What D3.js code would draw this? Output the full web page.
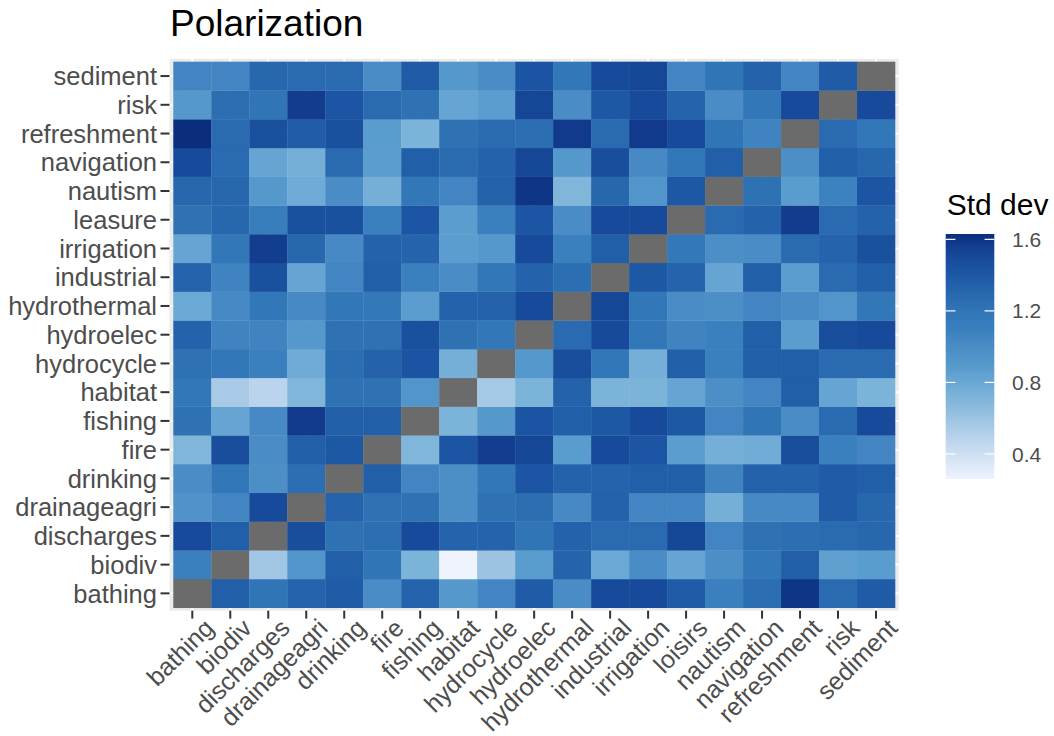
<!DOCTYPE html>
<html>
<head>
<meta charset="utf-8">
<script src="https://cdn.jsdelivr.net/npm/d3@7"></script>
<style>
  html, body { margin: 0; padding: 0; background: #ffffff; }
  svg { display: block; font-family: "Liberation Sans", Arial, Helvetica, sans-serif; }
</style>
</head>
<body>
<svg id="chart" width="1054" height="736"></svg>
<script>
// Column categories (x axis) and row categories (y axis, bottom to top)
const xCategories = ["bathing", "biodiv", "discharges", "drainageagri", "drinking", "fire",
  "fishing", "habitat", "hydrocycle", "hydroelec", "hydrothermal", "industrial", "irrigation",
  "loisirs", "nautism", "navigation", "refreshment", "risk", "sediment"];
const yCategories = ["bathing", "biodiv", "discharges", "drainageagri", "drinking", "fire",
  "fishing", "habitat", "hydrocycle", "hydroelec", "hydrothermal", "industrial", "irrigation",
  "leasure", "nautism", "navigation", "refreshment", "risk", "sediment"];

// Standard deviation of polarization, one row per y category (null = same category)
const stdDev = [
  /* bathing      */ [null, 1.35, 1.20, 1.32, 1.38, 1.00, 1.32, 0.90, 1.05, 1.38, 1.00, 1.50, 1.50, 1.38, 1.10, 1.25, 1.60, 1.28, 1.38],
  /* biodiv       */ [1.10, null, 0.58, 0.93, 1.35, 1.20, 0.72, 0.26, 0.60, 0.88, 1.32, 0.80, 1.00, 0.82, 0.98, 1.18, 1.35, 0.85, 0.88],
  /* discharges   */ [1.50, 1.35, null, 1.47, 1.22, 1.25, 1.50, 1.32, 1.32, 1.20, 1.33, 1.28, 1.28, 1.52, 1.05, 1.22, 1.25, 1.28, 1.30],
  /* drainageagri */ [0.95, 1.05, 1.50, null, 1.32, 1.22, 1.22, 0.98, 1.22, 1.25, 1.02, 1.33, 1.05, 1.05, 0.75, 1.02, 1.02, 1.38, 1.30],
  /* drinking     */ [1.00, 1.18, 0.98, 1.25, null, 1.35, 1.05, 0.98, 1.18, 1.42, 1.33, 1.32, 1.35, 1.35, 1.07, 1.33, 1.33, 1.38, 1.35],
  /* fire         */ [0.70, 1.47, 1.00, 1.35, 1.40, null, 0.70, 1.42, 1.56, 1.52, 0.88, 1.50, 1.42, 0.87, 0.75, 0.77, 1.47, 1.10, 1.05],
  /* fishing      */ [1.22, 0.82, 1.02, 1.58, 1.35, 1.35, null, 0.72, 0.90, 1.43, 1.35, 1.40, 1.50, 1.40, 1.05, 1.20, 1.00, 1.28, 1.50],
  /* habitat      */ [1.18, 0.55, 0.48, 0.70, 1.22, 1.22, 0.93, null, 0.56, 0.72, 1.33, 0.72, 0.72, 0.82, 0.98, 1.05, 1.35, 0.82, 0.72],
  /* hydrocycle   */ [1.22, 1.18, 1.10, 0.78, 1.25, 1.33, 1.43, 0.75, null, 0.90, 1.47, 1.18, 0.75, 1.35, 1.10, 1.35, 1.35, 1.28, 1.28],
  /* hydroelec    */ [1.33, 1.07, 1.07, 0.90, 1.22, 1.22, 1.45, 1.22, 1.18, null, 1.28, 1.50, 1.18, 1.07, 1.10, 1.35, 0.87, 1.47, 1.50],
  /* hydrothermal */ [0.80, 1.02, 1.18, 1.02, 1.18, 1.17, 0.87, 1.33, 1.33, 1.50, null, 1.52, 1.18, 1.00, 0.98, 1.05, 1.00, 0.93, 1.18],
  /* industrial   */ [1.32, 1.07, 1.45, 0.82, 1.05, 1.35, 1.10, 1.00, 1.18, 1.33, 1.25, null, 1.40, 1.32, 0.82, 1.35, 0.87, 1.28, 1.35],
  /* irrigation   */ [0.82, 1.18, 1.56, 1.30, 1.02, 1.33, 1.32, 0.87, 0.90, 1.50, 1.10, 1.35, null, 1.17, 0.98, 1.00, 1.28, 1.32, 1.45],
  /* leasure      */ [1.22, 1.30, 1.12, 1.45, 1.45, 1.10, 1.42, 0.87, 1.10, 1.42, 1.00, 1.50, 1.50, null, 1.28, 1.33, 1.57, 1.28, 1.33],
  /* nautism      */ [1.30, 1.30, 0.90, 0.78, 1.00, 0.75, 1.18, 1.05, 1.33, 1.60, 0.70, 1.30, 0.93, 1.40, null, 1.22, 0.88, 1.08, 1.42],
  /* navigation   */ [1.50, 1.28, 0.82, 0.75, 1.28, 0.87, 1.35, 1.27, 1.33, 1.52, 0.90, 1.47, 1.02, 1.18, 1.35, null, 0.98, 1.35, 1.30],
  /* refreshment  */ [1.63, 1.28, 1.45, 1.37, 1.45, 0.88, 0.72, 1.22, 1.28, 1.25, 1.58, 1.28, 1.58, 1.50, 1.20, 1.07, null, 1.28, 1.18],
  /* risk         */ [0.90, 1.25, 1.20, 1.57, 1.42, 1.28, 1.22, 0.82, 0.87, 1.52, 1.00, 1.40, 1.50, 1.32, 1.00, 1.18, 1.50, null, 1.50],
  /* sediment     */ [1.05, 1.05, 1.30, 1.28, 1.28, 1.00, 1.38, 0.90, 1.00, 1.43, 1.18, 1.50, 1.52, 1.05, 1.20, 1.33, 1.05, 1.38, null]
];

// Legend tick labels
const legendTicks = [0.4, 0.8, 1.2, 1.6];

// Blue gradient stops
const colorStops = [
  [0.262, "#eef3fe"], [0.50, "#b6d1eb"], [0.70, "#80b6da"], [0.80, "#6aa8d5"],
  [0.90, "#5599cc"], [1.00, "#4a8cc6"], [1.10, "#3a7fbe"], [1.20, "#3075b6"],
  [1.30, "#2767ae"], [1.40, "#1d58a5"], [1.50, "#174a9a"], [1.58, "#113a8c"], [1.63, "#0b2d7d"]
];
const naColor = "#6b6b6b";

const svg = d3.select("#chart");

const panel = { left: 169.5, right: 898.8, top: 58.8, bottom: 610.6 };

const x = d3.scaleBand()
  .domain(xCategories)
  .range([panel.left, panel.right])
  .paddingInner(0).paddingOuter(0.1);

const y = d3.scaleBand()
  .domain(yCategories.slice().reverse())
  .range([panel.top, panel.bottom])
  .paddingInner(0).paddingOuter(0.1);

const extent = d3.extent(stdDev.flat().filter(v => v !== null));
const color = d3.scaleLinear()
  .domain(colorStops.map(d => d[0]))
  .range(colorStops.map(d => d[1]))
  .interpolate(d3.interpolateLab)
  .clamp(true);

// Panel background and grid
svg.append("rect")
  .attr("x", panel.left).attr("y", panel.top)
  .attr("width", panel.right - panel.left).attr("height", panel.bottom - panel.top)
  .attr("fill", "#ebebeb");

const grid = svg.append("g");
grid.selectAll("line.vx").data(xCategories).join("line")
  .attr("x1", d => x(d) + x.bandwidth() / 2).attr("x2", d => x(d) + x.bandwidth() / 2)
  .attr("y1", panel.top).attr("y2", panel.bottom)
  .attr("stroke", "#ffffff").attr("stroke-width", 2);
grid.selectAll("line.hy").data(yCategories).join("line")
  .attr("y1", d => y(d) + y.bandwidth() / 2).attr("y2", d => y(d) + y.bandwidth() / 2)
  .attr("x1", panel.left).attr("x2", panel.right)
  .attr("stroke", "#ffffff").attr("stroke-width", 2);

// Tiles
const cells = [];
yCategories.forEach((row, i) => {
  xCategories.forEach((col, j) => {
    cells.push({ row, col, value: stdDev[i][j] });
  });
});

svg.append("g").selectAll("rect").data(cells).join("rect")
  .attr("x", d => x(d.col))
  .attr("y", d => y(d.row))
  .attr("width", x.bandwidth() + 0.3)
  .attr("height", y.bandwidth() + 0.3)
  .attr("fill", d => d.value === null ? naColor : color(d.value));

// Axes
const tickColor = "#333333";
const textColor = "#4d4d4d";
const axisFont = 25.5;

const yAxis = svg.append("g");
yAxis.selectAll("line").data(yCategories).join("line")
  .attr("x1", panel.left - 9).attr("x2", panel.left)
  .attr("y1", d => y(d) + y.bandwidth() / 2).attr("y2", d => y(d) + y.bandwidth() / 2)
  .attr("stroke", tickColor).attr("stroke-width", 2);
yAxis.selectAll("text").data(yCategories).join("text")
  .attr("x", panel.left - 12.5)
  .attr("y", d => y(d) + y.bandwidth() / 2)
  .attr("dy", "0.36em")
  .attr("text-anchor", "end")
  .attr("font-size", axisFont)
  .attr("fill", textColor)
  .text(d => d);

const xAxis = svg.append("g");
xAxis.selectAll("line").data(xCategories).join("line")
  .attr("x1", d => x(d) + x.bandwidth() / 2).attr("x2", d => x(d) + x.bandwidth() / 2)
  .attr("y1", panel.bottom).attr("y2", panel.bottom + 8)
  .attr("stroke", tickColor).attr("stroke-width", 2);
xAxis.selectAll("text").data(xCategories).join("text")
  .attr("transform", d => `translate(${x(d) + x.bandwidth() / 2 + 23},${panel.bottom + 19}) rotate(-45)`)
  .attr("text-anchor", "end")
  .attr("font-size", 25)
  .attr("fill", textColor)
  .text(d => d);

// Title
svg.append("text")
  .attr("x", panel.left + 0.5).attr("y", 36)
  .attr("font-size", 37)
  .attr("fill", "#000000")
  .text("Polarization");

// Colour bar legend
const bar = { x: 945.7, y: 234, w: 48.6, h: 245 };
const lg = svg.append("g");
lg.append("text")
  .attr("x", bar.x + 1).attr("y", 215)
  .attr("font-size", 30)
  .attr("fill", "#000000")
  .text("Std dev");

const defs = svg.append("defs");
const grad = defs.append("linearGradient")
  .attr("id", "stdGrad")
  .attr("x1", 0).attr("y1", 1).attr("x2", 0).attr("y2", 0);
const nStops = 40;
d3.range(nStops + 1).forEach(k => {
  const v = extent[0] + (extent[1] - extent[0]) * k / nStops;
  grad.append("stop").attr("offset", k / nStops).attr("stop-color", color(v));
});

lg.append("rect")
  .attr("x", bar.x).attr("y", bar.y)
  .attr("width", bar.w).attr("height", bar.h)
  .attr("fill", "url(#stdGrad)");

const legendScale = d3.scaleLinear()
  .domain(extent)
  .range([bar.y + bar.h, bar.y]);

const tickLen = bar.w / 5;
legendTicks.forEach(t => {
  const ty = legendScale(t);
  lg.append("line").attr("x1", bar.x).attr("x2", bar.x + tickLen)
    .attr("y1", ty).attr("y2", ty).attr("stroke", "#ffffff").attr("stroke-width", 1.2);
  lg.append("line").attr("x1", bar.x + bar.w - tickLen).attr("x2", bar.x + bar.w)
    .attr("y1", ty).attr("y2", ty).attr("stroke", "#ffffff").attr("stroke-width", 1.2);
  lg.append("text")
    .attr("x", 1012).attr("y", ty).attr("dy", "0.36em")
    .attr("font-size", 21)
    .attr("fill", textColor)
    .text(d3.format(".1f")(t));
});
</script>
</body>
</html>
